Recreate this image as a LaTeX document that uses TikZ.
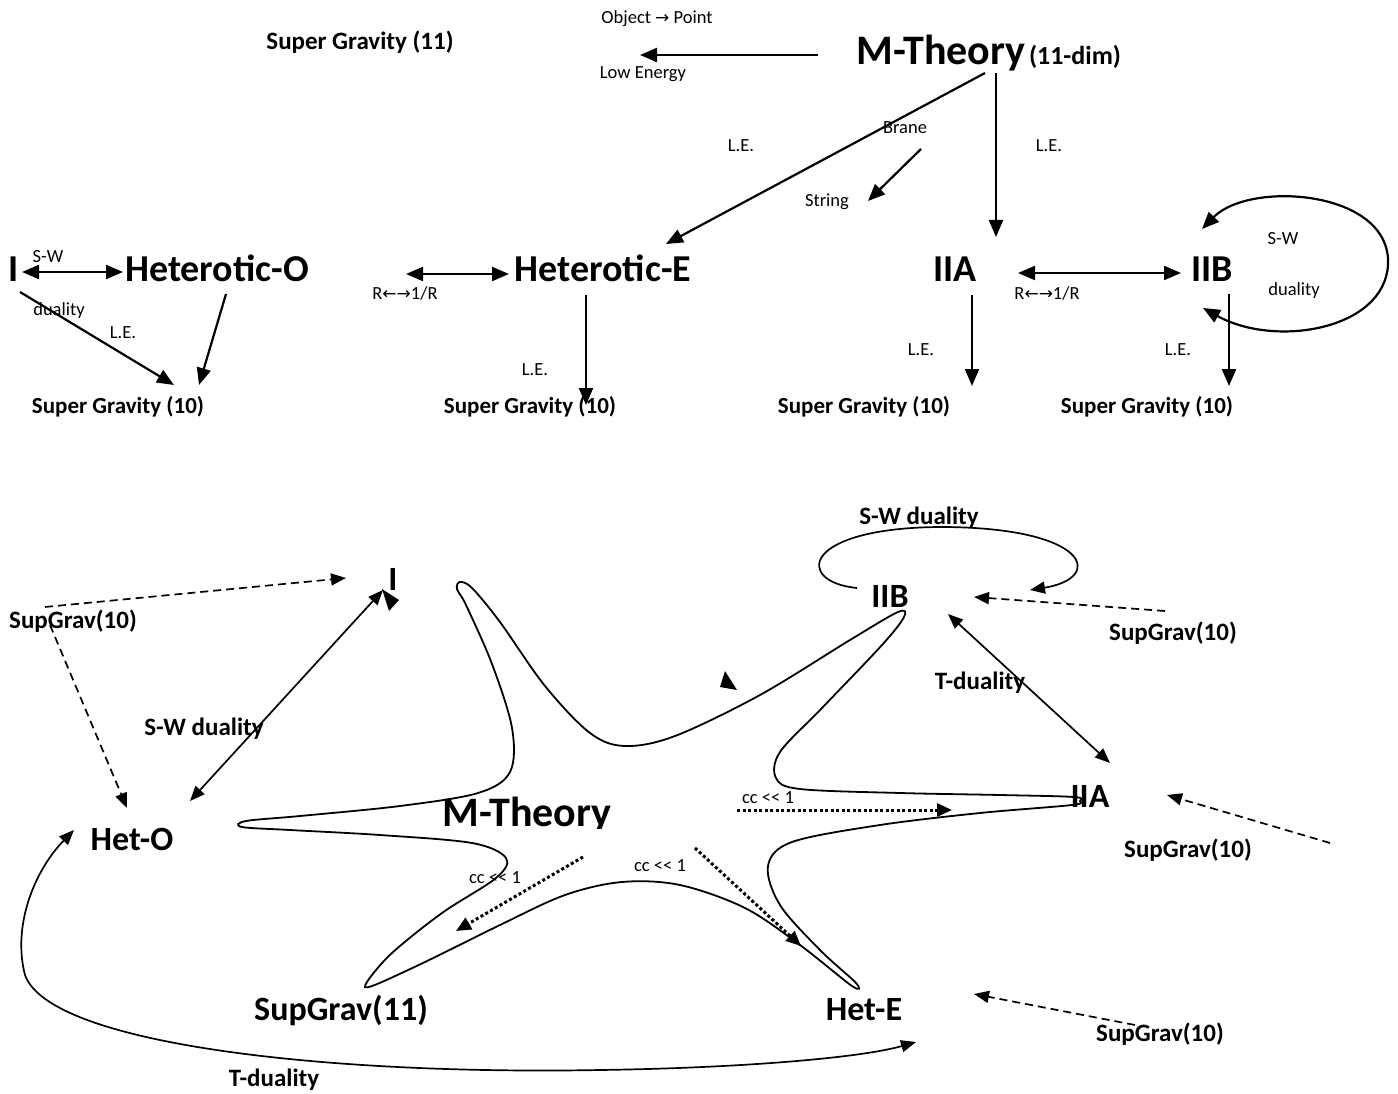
\documentclass[tikz,border=0pt]{standalone}
\usepackage{fontspec}
\setmainfont{Carlito}
\newfontfamily\symfont{DejaVu Sans}
\usetikzlibrary{arrows.meta}
\newcommand{\rarr}{{\symfont\fontsize{17}{17}\selectfont →}}
\newcommand{\larr}{{\symfont\fontsize{17}{17}\selectfont ←}}
\begin{document}
\begin{tikzpicture}[x=1pt,y=-1pt,
  >={Triangle[length=17pt,width=14pt]},
  txt/.style={inner sep=0pt, anchor=base},
  bigT/.style={txt, font=\bfseries\fontsize{38}{40}\selectfont},
  mth/.style={txt, font=\bfseries\fontsize{42}{44}\selectfont},
  subt/.style={txt, font=\bfseries\fontsize{26}{28}\selectfont},
  sgt/.style={txt, font=\bfseries\fontsize{23}{25}\selectfont},
  sgeleven/.style={txt, font=\bfseries\fontsize{25}{27}\selectfont},
  lab/.style={txt, font=\fontsize{18.5}{20}\selectfont},
  lbig/.style={txt, font=\bfseries\fontsize{34}{36}\selectfont},
  llab/.style={txt, font=\bfseries\fontsize{25}{27}\selectfont},
  cclab/.style={txt, font=\fontsize{18.5}{20}\selectfont},
  conn/.style={line width=2.2pt, ->},
  dconn/.style={line width=2.2pt, <->},
  lconn/.style={line width=1.7pt, >={Triangle[length=15pt,width=12pt]}},
  dashconn/.style={line width=1.7pt, dash pattern=on 8pt off 5pt, ->, >={Triangle[length=15pt,width=12pt]}},
  dotconn/.style={line width=3pt, dash pattern=on 3pt off 2.5pt, ->, >={Triangle[length=15pt,width=13pt]}},
]
\useasboundingbox (0,0) rectangle (1398,1094);
\fill[white] (0,0) rectangle (1398,1094);

% ---------------- upper diagram ----------------
\node[sgeleven] (sg11top) at (360,50) {Super Gravity (11)};
\node[lab] (objpt) at (657,24) {Object \rarr\ Point};
\node[lab] (lowen) at (643,79) {Low Energy};
\node[mth] (mtop) at (941,65) {M-Theory};
\node[subt] (dim) at (1075,65) {(11-dim)};
\node[lab] (le1) at (741,152) {L.E.};
\node[lab] (le2) at (1049,152) {L.E.};
\node[lab] (brane) at (905,134) {Brane};
\node[lab] (string) at (827,207) {String};

\node[bigT] (Itop) at (14,282) {I};
\node[lab] (sw1) at (48,262) {S-W};
\node[lab] (du1) at (59,315) {duality};
\node[bigT] (hetOtop) at (217,282) {Heterotic-O};
\node[lab] (le3) at (123,338) {L.E.};
\node[sgt] (sg10a) at (118,413) {Super Gravity (10)};

\node[lab] (rr1) at (405,299) {R\larr\rarr1/R};
\node[bigT] (hetEtop) at (603,282) {Heterotic-E};
\node[lab] (le4) at (535,375) {L.E.};
\node[sgt] (sg10b) at (530,413) {Super Gravity (10)};

\node[bigT] (IIAtop) at (955,282) {IIA};
\node[lab] (rr2) at (1047,299) {R\larr\rarr1/R};
\node[bigT] (IIBtop) at (1212,282) {IIB};
\node[lab] (le5) at (921,355) {L.E.};
\node[sgt] (sg10c) at (864,413) {Super Gravity (10)};
\node[lab] (le6) at (1178,355) {L.E.};
\node[sgt] (sg10d) at (1147,413) {Super Gravity (10)};
\node[lab] (sw2) at (1283,244) {S-W};
\node[lab] (du2) at (1294,295) {duality};

\coordinate (p1) at (818,55);  \coordinate (p2) at (640,55);
\draw[conn] (p1) -- (p2);
\coordinate (p3) at (985,73);  \coordinate (p4) at (666,244);
\draw[conn] (p3) -- (p4);
\coordinate (p5) at (921,149); \coordinate (p6) at (868,201);
\draw[conn] (p5) -- (p6);
\coordinate (p7) at (996,73);  \coordinate (p8) at (996,237);
\draw[conn] (p7) -- (p8);
\coordinate (q1) at (22,272);  \coordinate (q2) at (123,272);
\draw[dconn] (q1) -- (q2);
\coordinate (q3) at (20,292);  \coordinate (q4) at (174,385);
\draw[conn] (q3) -- (q4);
\coordinate (q5) at (226,294); \coordinate (q6) at (199,385);
\draw[conn] (q5) -- (q6);
\coordinate (q7) at (406,274); \coordinate (q8) at (509,274);
\draw[dconn] (q7) -- (q8);
\coordinate (q9) at (586,295); \coordinate (q10) at (586,405);
\draw[conn] (q9) -- (q10);
\coordinate (r1) at (1018,273); \coordinate (r2) at (1181,273);
\draw[dconn] (r1) -- (r2);
\coordinate (r3) at (972,295); \coordinate (r4) at (972,386);
\draw[conn] (r3) -- (r4);
\coordinate (r5) at (1229,294); \coordinate (r6) at (1229,386);
\draw[conn] (r5) -- (r6);
\coordinate (r7) at (1202,229); \coordinate (r8) at (1203,308);
\draw[dconn] (r7) .. controls (1250,180) and (1392,190) .. (1388,265)
   .. controls (1384,330) and (1275,348) .. (r8);

% ---------------- lower diagram ----------------
\node[llab] (sgL) at (73,628) {SupGrav(10)};
\node[lbig] (Ilow) at (393,590) {I};
\node[llab] (swL) at (204,735) {S-W duality};
\node[lbig] (hetO) at (132,850) {Het-O};
\begin{scope}
\clip (400,770) rectangle (660,828);
\node[mth] (mlow) at (527,826) {M-Theory};
\end{scope}
\node[llab] (swR) at (919,524) {S-W duality};
\node[lbig] (IIB) at (890,607) {IIB};
\node[llab] (sgB) at (1173,640) {SupGrav(10)};
\node[llab] (tdR) at (980,689) {T-duality};
\node[lbig] (IIA) at (1090,807) {IIA};
\node[llab] (sgA) at (1188,857) {SupGrav(10)};
\node[lbig] (sg11) at (341,1020) {SupGrav(11)};
\node[lbig] (hetE) at (864,1020) {Het-E};
\node[llab] (sgE) at (1160,1041) {SupGrav(10)};
\node[llab] (tdB) at (274,1086) {T-duality};
\node[cclab] (cc1) at (768,803) {cc <{}< 1};
\node[cclab] (cc2) at (495,883) {cc <{}< 1};
\node[cclab] (cc3) at (660,871) {cc <{}< 1};

% star
\draw[line width=1.8pt] plot[smooth cycle, tension=0.55] coordinates {
 (460,582) (472,588) (500,622) (545,686) (590,733) (625,746) (675,736)
 (760,695) (850,640) (898,612) (904,617) (882,645) (822,708) (780,752)
 (776,778) (800,789) (900,793) (1000,795) (1074,797) (1080,801) (1072,805)
 (980,813) (880,825) (792,842) (768,866) (780,905) (820,950) (856,983)
 (852,986) (800,945) (745,908) (680,885) (622,882) (565,895) (500,925)
 (425,962) (372,986) (367,982) (392,953) (442,913) (496,878) (506,858)
 (472,843) (380,835) (290,830) (242,827) (246,821) (300,816) (400,806)
 (478,793) (510,772) (512,728) (492,664) (466,605) (457,589)};
\fill (725,671) -- (737,690) -- (720,687) -- cycle;

\coordinate (s1) at (45,607);   \coordinate (s2) at (346,578);
\draw[dashconn] (s1) -- (s2);
\coordinate (s3) at (50,625);   \coordinate (s4) at (127,808);
\draw[dashconn] (s3) -- (s4);
\coordinate (s5) at (190,801);  \coordinate (s6) at (383,590);
\draw[lconn,<->] (s5) -- (s6);
\fill (382,589) -- (399,600) -- (389,611) -- cycle;
\coordinate (t1) at (74,830);   \coordinate (t2) at (916,1042);
\draw[lconn,<->] (t1) .. controls (35,870) and (12,925) .. (25,975)
   .. controls (50,1045) and (330,1075) .. (600,1070)
   .. controls (740,1068) and (860,1058) .. (t2);
\coordinate (u1) at (857,588);  \coordinate (u2) at (1030,590);
\draw[lconn,->] (u1) .. controls (795,582) and (800,528) .. (940,527)
   .. controls (1090,527) and (1105,578) .. (u2);
\coordinate (u3) at (1165,611); \coordinate (u4) at (974,597);
\draw[dashconn] (u3) -- (u4);
\coordinate (u5) at (948,614);  \coordinate (u6) at (1110,763);
\draw[lconn,<->] (u5) -- (u6);
\coordinate (u7) at (1330,843); \coordinate (u8) at (1167,795);
\draw[dashconn] (u7) -- (u8);
\coordinate (u9) at (1135,1025); \coordinate (u10) at (974,994);
\draw[dashconn] (u9) -- (u10);
\coordinate (v1) at (737,810);  \coordinate (v2) at (952,810);
\draw[dotconn] (v1) -- (v2);
\coordinate (v3) at (583,857);  \coordinate (v4) at (456,931);
\draw[dotconn] (v3) -- (v4);
\coordinate (v5) at (695,848);  \coordinate (v6) at (801,946);
\draw[dotconn] (v5) -- (v6);
\end{tikzpicture}
\end{document}
